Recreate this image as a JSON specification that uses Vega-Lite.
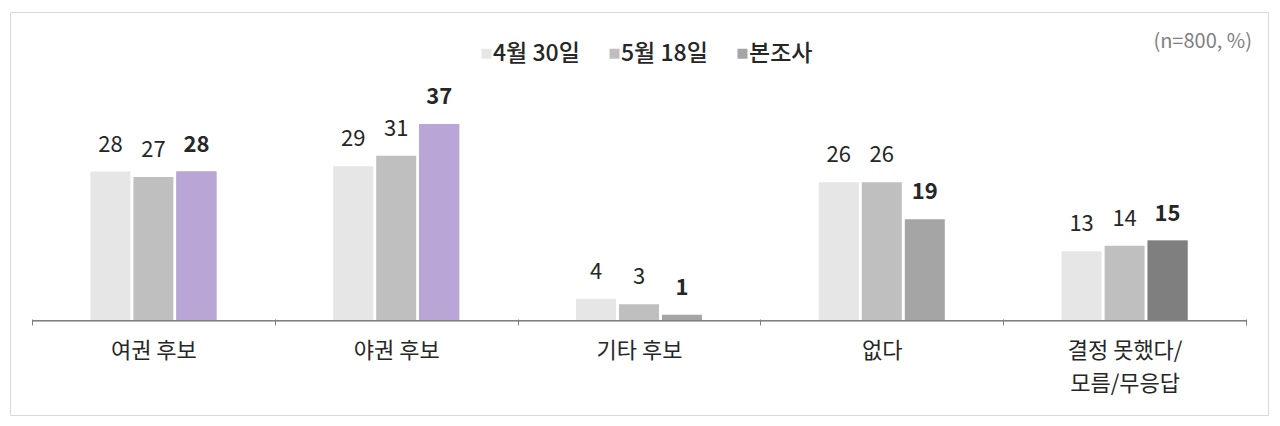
{
  "$schema": "https://vega.github.io/schema/vega-lite/v6.json",
  "width": 1258,
  "height": 403,
  "autosize": "none",
  "padding": {"left": 10, "top": 12, "right": 12, "bottom": 11},
  "background": "white",
  "config": {
    "view": {"stroke": "#d9d9d9", "strokeWidth": 1},
    "font": "Noto Sans CJK KR"
  },
  "title": {
    "text": "(n=800, %)",
    "anchor": "end",
    "orient": "top",
    "frame": "group",
    "offset": -40,
    "dx": -16,
    "fontSize": 20,
    "fontWeight": "normal",
    "color": "#7f7f7f",
    "font": "Noto Sans CJK KR"
  },
  "data": {
    "values": [
      {"category": "여권 후보", "series": "4월 30일", "value": 28},
      {"category": "여권 후보", "series": "5월 18일", "value": 27},
      {"category": "여권 후보", "series": "본조사", "value": 28},
      {"category": "야권 후보", "series": "4월 30일", "value": 29},
      {"category": "야권 후보", "series": "5월 18일", "value": 31},
      {"category": "야권 후보", "series": "본조사", "value": 37},
      {"category": "기타 후보", "series": "4월 30일", "value": 4},
      {"category": "기타 후보", "series": "5월 18일", "value": 3},
      {"category": "기타 후보", "series": "본조사", "value": 1},
      {"category": "없다", "series": "4월 30일", "value": 26},
      {"category": "없다", "series": "5월 18일", "value": 26},
      {"category": "없다", "series": "본조사", "value": 19},
      {"category": "결정 못했다/모름/무응답", "series": "4월 30일", "value": 13},
      {"category": "결정 못했다/모름/무응답", "series": "5월 18일", "value": 14},
      {"category": "결정 못했다/모름/무응답", "series": "본조사", "value": 15}
    ]
  },
  "resolve": {"scale": {"x": "independent"}, "axis": {"x": "independent"}},
  "layer": [
    {
      "mark": {"type": "rect", "color": "#808080"},
      "encoding": {
        "x": {
          "field": "category",
          "type": "nominal",
          "sort": ["여권 후보", "야권 후보", "기타 후보", "없다", "결정 못했다/모름/무응답"],
          "scale": {"paddingInner": 0, "paddingOuter": 0.0906},
          "axis": {
            "title": null,
            "orient": "bottom",
            "offset": -96,
            "domain": false,
            "ticks": true,
            "tickBand": "extent",
            "tickSize": 6,
            "tickColor": "#7f7f7f",
            "tickWidth": 1,
            "labelAngle": 0,
            "labelFontSize": 22,
            "labelColor": "#262626",
            "labelFont": "Noto Sans CJK KR",
            "labelPadding": 15,
            "labelLineHeight": 33,
            "labelExpr": "datum.label == '결정 못했다/모름/무응답' ? ['결정 못했다/', '모름/무응답'] : datum.label"
          }
        },
        "y": {"datum": 0, "type": "quantitative", "scale": {"domain": [-17.9, 58.1], "nice": false, "zero": false}, "axis": null},
        "y2": {"datum": -0.2}
      }
    },
    {
      "encoding": {
        "x": {
          "field": "category",
          "type": "nominal",
          "sort": ["여권 후보", "야권 후보", "기타 후보", "없다", "결정 못했다/모름/무응답"],
          "scale": {"paddingInner": 0.127, "paddingOuter": 0.1541},
          "axis": null
        },
        "xOffset": {
          "field": "series",
          "type": "nominal",
          "sort": ["4월 30일", "5월 18일", "본조사"],
          "scale": {"paddingInner": 0.07, "paddingOuter": 1}
        },
        "y": {
          "field": "value",
          "type": "quantitative",
          "scale": {"domain": [-17.9, 58.1], "nice": false, "zero": false},
          "axis": null
        }
      },
      "layer": [
        {
          "mark": {"type": "bar"},
          "encoding": {
            "color": {
              "field": "series",
              "type": "nominal",
              "sort": ["4월 30일", "5월 18일", "본조사"],
              "scale": {"domain": ["4월 30일", "5월 18일", "본조사"], "range": ["#e6e6e6", "#bfbfbf", "#a5a5a5"]},
              "legend": {
                "title": null,
                "orient": "none",
                "direction": "horizontal",
                "legendX": 465,
                "legendY": 30,
                "symbolType": "square",
                "symbolSize": 100,
                "symbolStrokeWidth": 0,
                "labelFontSize": 23,
                "labelFontWeight": 500,
                "labelFont": "Noto Sans CJK KR",
                "labelColor": "#262626",
                "columnPadding": 23,
                "labelOffset": -5
              }
            }
          }
        },
        {
          "transform": [{"filter": "datum.series === '본조사' && (datum.category === '여권 후보' || datum.category === '야권 후보')"}],
          "mark": {"type": "bar", "color": "#b9a6d6"}
        },
        {
          "transform": [{"filter": "datum.series === '본조사' && datum.category === '결정 못했다/모름/무응답'"}],
          "mark": {"type": "bar", "color": "#7f7f7f"}
        },
        {
          "transform": [{"filter": "datum.series !== '본조사'"}],
          "mark": {"type": "text", "baseline": "alphabetic", "dy": -20, "fontSize": 22, "color": "#262626", "font": "Noto Sans CJK KR"},
          "encoding": {
            "text": {"field": "value", "type": "quantitative"}
          }
        },
        {
          "transform": [{"filter": "datum.series === '본조사'"}],
          "mark": {"type": "text", "baseline": "alphabetic", "dy": -20, "fontSize": 22, "fontWeight": "bold", "color": "#262626", "font": "Noto Sans CJK KR"},
          "encoding": {
            "text": {"field": "value", "type": "quantitative"}
          }
        }
      ]
    }
  ]
}
